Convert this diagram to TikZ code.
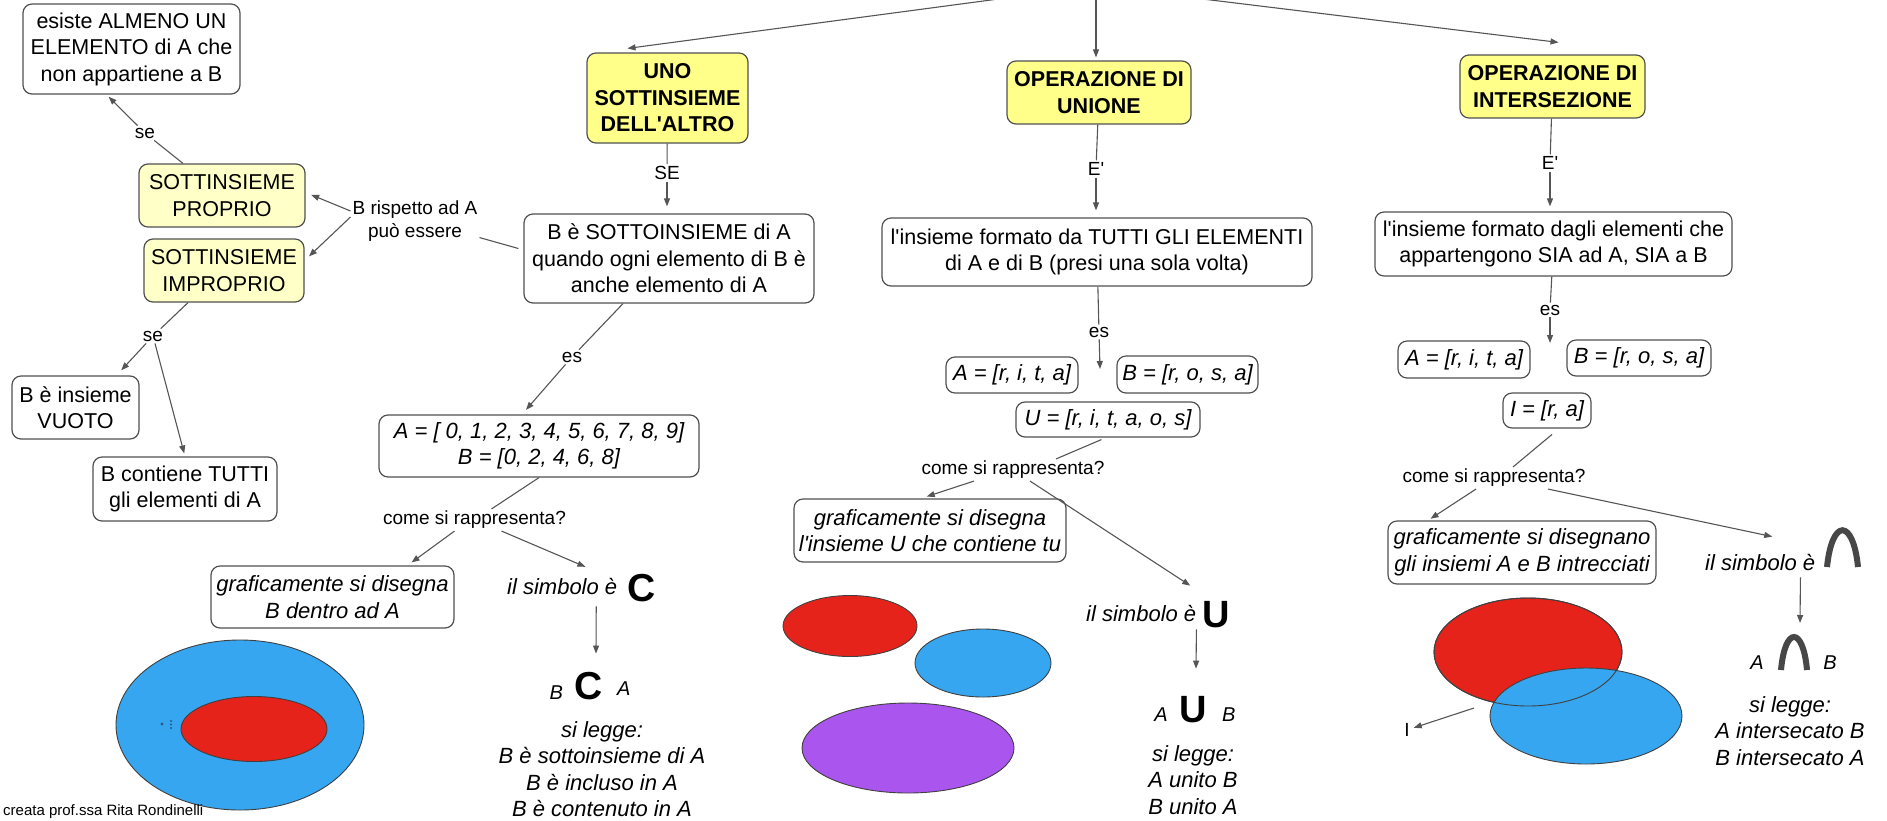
\documentclass[tikz,border=0pt]{standalone}
\usepackage{fontspec}
\setmainfont{Liberation Sans}
\usetikzlibrary{arrows.meta,calc}
\definecolor{bordc}{HTML}{505050}
\definecolor{connc}{HTML}{555555}
\definecolor{yelA}{HTML}{FFFF8A}
\definecolor{yelB}{HTML}{FFFFC8}
\definecolor{redS}{HTML}{E5231B}
\definecolor{blueS}{HTML}{35A6EF}
\definecolor{purpS}{HTML}{A955EE}
\definecolor{symc}{HTML}{474747}
\definecolor{dotc}{HTML}{2A5A80}
\newcommand\fsz[2]{\fontsize{#1}{#2}\selectfont}
\newcommand\apo{\textquotesingle}
\begin{document}
\begin{tikzpicture}[x=1pt,y=-1pt,
 box/.style={draw=bordc, line width=1.2pt, rounded corners=9pt, fill=white, align=center, inner sep=0pt, font=\fsz{21.5}{26.5}},
 ybox/.style={box, fill=yelA, font=\fsz{21.5}{26.5}\bfseries},
 pbox/.style={box, fill=yelB},
 ibox/.style={box, font=\fsz{22}{26.5}\itshape},
 lab/.style={inner sep=2pt, align=center, font=\fsz{19}{23}},
 itx/.style={inner sep=0pt, align=center, font=\fsz{22}{26.3}\itshape},
 conn/.style={draw=connc, line width=1.1pt},
 arr/.style={conn, -{Triangle[length=8pt,width=6pt]}},
 ell/.style={draw=black!75, line width=0.9pt},
]
\useasboundingbox (0,0) rectangle (1887,820);
\clip (0,0) rectangle (1887,820);

% ---------- ellipses ----------
\filldraw[ell, fill=blueS] (240,725) ellipse [x radius=124pt, y radius=85pt];
\filldraw[ell, fill=redS] (254,729) ellipse [x radius=73pt, y radius=32.5pt];
\fill[dotc] (162,724) circle (1.6pt);
\fill[dotc] (171,721) circle (1.1pt);
\fill[dotc] (171,724.5) circle (1.1pt);
\fill[dotc] (171,728) circle (1.1pt);

\filldraw[ell, fill=redS] (850,626) ellipse [x radius=67pt, y radius=30.5pt];
\filldraw[ell, fill=blueS] (983,663) ellipse [x radius=68pt, y radius=34pt];
\filldraw[ell, fill=purpS] (908,748) ellipse [x radius=106pt, y radius=45pt];

\filldraw[ell, fill=redS] (1528,652) ellipse [x radius=94pt, y radius=54pt];
\filldraw[ell, fill=blueS] (1586,716) ellipse [x radius=96pt, y radius=48pt];
\draw[ell] (1528,652) ellipse [x radius=94pt, y radius=54pt];

% ---------- left part ----------
\node[box, minimum width=217pt, minimum height=90pt] (esiste) at (131.5,49) {esiste ALMENO UN\\ELEMENTO di A che\\non appartiene a B};
\node[pbox, minimum width=166pt, minimum height=63pt] (proprio) at (222,195.5) {SOTTINSIEME\\PROPRIO};
\node[pbox, minimum width=160pt, minimum height=63pt] (improprio) at (224,270.5) {SOTTINSIEME\\IMPROPRIO};
\node[lab] (resp) at (415,221) {B rispetto ad A\\può essere};
\node[lab] (se1) at (145,133) {se};
\node[lab] (se2) at (153,336) {se};
\node[box, minimum width=127pt, minimum height=63pt] (vuoto) at (75.5,407.5) {B è insieme\\VUOTO};
\node[box, minimum width=184pt, minimum height=64pt] (contiene) at (185,489) {B contiene TUTTI\\gli elementi di A};

% ---------- subset column ----------
\node[ybox, minimum width=161pt, minimum height=90pt] (uno) at (667.5,98) {UNO\\SOTTINSIEME\\DELL\apo ALTRO};
\node[lab] (SE) at (667,173) {SE};
\node[box, minimum width=290pt, minimum height=89pt] (bsotto) at (669,258.5) {B è SOTTOINSIEME di A\\quando ogni elemento di B è\\anche elemento di A};
\node[lab] (es1) at (572,357) {es};
\node[ibox, minimum width=320pt, minimum height=62pt] (Aset) at (539,446) {A = [ 0, 1, 2, 3, 4, 5, 6, 7, 8, 9]\\B = [0, 2, 4, 6, 8]};
\node[lab] (come1) at (474.5,520) {come si rappresenta?};
\node[ibox, minimum width=243pt, minimum height=62pt] (graf1) at (332.5,597) {graficamente si disegna\\B dentro ad A};
\node[inner sep=0pt, anchor=base west, font=\fsz{22}{26}\itshape] (simb1t) at (507,594) {il simbolo è};
\node[inner sep=0pt, anchor=base, font=\fsz{39}{39}\bfseries] (simb1s) at (642,601) {C};
\node[inner sep=0pt, anchor=base] (bca) at (590,699) {{\fsz{20}{20}\itshape B}\hspace{12pt}{\fsz{39}{39}\bfseries C}\hspace{14pt}\raisebox{4pt}{\fsz{20}{20}\itshape A}};
\node[itx] (legge1) at (602,769) {si legge:\\B è sottoinsieme di A\\B è incluso in A\\B è contenuto in A};

% ---------- union column ----------
\node[ybox, minimum width=184pt, minimum height=63pt] (union) at (1099,92.5) {OPERAZIONE DI\\UNIONE};
\node[lab] (E1) at (1096,169) {E\apo};
\node[box, minimum width=430pt, minimum height=68pt] (linsU) at (1097,252) {l\apo insieme formato da TUTTI GLI ELEMENTI\\di A e di B (presi una sola volta)};
\node[lab] (es2) at (1099,332) {es};
\coordinate (esU) at (1100,369);
\node[ibox, minimum width=132pt, minimum height=36pt] (AU) at (1012,375) {A = [r, i, t, a]};
\node[ibox, minimum width=141pt, minimum height=37pt] (BU) at (1187.5,374.5) {B = [r, o, s, a]};
\node[ibox, minimum width=184pt, minimum height=35pt] (UU) at (1108,419.5) {U = [r, i, t, a, o, s]};
\node[lab] (come2) at (1013,470) {come si rappresenta?};
\node[ibox, minimum width=272pt, minimum height=63pt] (grafU) at (930,530.5) {graficamente si disegna\\l\apo insieme U che contiene tu};
\node[inner sep=0pt, anchor=base west, font=\fsz{22}{26}\itshape] (simbUt) at (1086,621) {il simbolo è};
\node[inner sep=0pt, anchor=base, font=\fsz{38}{38}\bfseries] (simbUs) at (1216,627) {U};
\node[inner sep=0pt, anchor=base] (AUB) at (1195,722) {\raisebox{1pt}{\fsz{20}{20}\itshape A}\hspace{12pt}{\fsz{38}{38}\bfseries U}\hspace{15pt}\raisebox{1pt}{\fsz{20}{20}\itshape B}};
\node[itx] (leggeU) at (1193,780) {si legge:\\A unito B\\B unito A};

% ---------- intersection column ----------
\node[ybox, minimum width=185pt, minimum height=63pt] (inter) at (1552.5,86.5) {OPERAZIONE DI\\INTERSEZIONE};
\node[lab] (E2) at (1550,163) {E\apo};
\node[box, minimum width=357pt, minimum height=64pt] (linsI) at (1553.5,244) {l\apo insieme formato dagli elementi che\\appartengono SIA ad A, SIA a B};
\node[lab] (es3) at (1550,310) {es};
\coordinate (esI) at (1550,343);
\node[ibox, minimum width=132pt, minimum height=37pt] (AI) at (1464,359.5) {A = [r, i, t, a]};
\node[ibox, minimum width=144pt, minimum height=36pt] (BI) at (1639,358) {B = [r, o, s, a]};
\node[ibox, minimum width=88pt, minimum height=35pt] (II) at (1547,410.5) {I = [r, a]};
\node[lab] (come3) at (1494,478) {come si rappresenta?};
\node[ibox, minimum width=268pt, minimum height=63pt] (grafI) at (1522,552.5) {graficamente si disegnano\\gli insiemi A e B intrecciati};
\node[inner sep=0pt, anchor=base west, font=\fsz{22}{26}\itshape] (simbIt) at (1705,570) {il simbolo è};
\draw[symc, line width=6pt] (1827,567) .. controls (1832,518) and (1853,518) .. (1858,567);
\coordinate (cap2) at (1794,651);
\draw[symc, line width=6pt] (1781,670) .. controls (1785,626) and (1803,626) .. (1807,670);
\node[inner sep=0pt, anchor=base, font=\fsz{20}{20}\itshape] (Ai) at (1757,669) {A};
\node[inner sep=0pt, anchor=base, font=\fsz{20}{20}\itshape] (Bi) at (1830,669) {B};
\node[itx] (leggeI) at (1790,731) {si legge:\\A intersecato B\\B intersecato A};
\node[lab] (Ilab) at (1407,730) {I};
\coordinate (Isrc) at (1474,708);

\node[inner sep=0pt, anchor=base west, font=\fsz{15}{15}] (credit) at (3,815) {creata prof.ssa Rita Rondinelli};

% ---------- connectors ----------
\coordinate (root) at (1096,-14);
\draw[arr] (root) -- ([xshift=-40pt,yshift=4pt]uno.north);
\draw[arr] (root) -- ([xshift=-3pt,yshift=3pt]union.north);
\draw[arr] (root) -- ([xshift=6pt,yshift=12pt]inter.north);

\draw[conn] ([xshift=-39pt]proprio.north) -- (se1);
\draw[arr, shorten >=3pt] (se1) -- ([xshift=-25pt]esiste.south);
\draw[conn] ([xshift=-5pt,yshift=10pt]bsotto.west) -- ([yshift=6pt]resp.south east);
\draw[arr, shorten >=6pt] ([yshift=10pt]resp.west) -- ([yshift=3pt]proprio.east);
\draw[arr, shorten >=6pt] ([yshift=4pt]resp.west) -- ([yshift=10pt]improprio.east);
\draw[conn] ([xshift=-36pt]improprio.south) -- (se2);
\draw[arr, shorten >=7pt] (se2) -- ([xshift=41pt]vuoto.north);
\draw[arr, shorten >=3pt] (se2) -- (contiene.north);

\draw[conn] (uno) -- (SE);
\draw[arr, shorten >=7pt] (SE) -- (SE |- bsotto.north);
\draw[conn] ([xshift=-46pt]bsotto.south) -- (es1);
\draw[arr, shorten >=6pt] (es1) -- ([xshift=-17pt]Aset.north);
\draw[conn] (Aset.south) -- ([xshift=17pt]come1.north);
\draw[arr, shorten >=5pt] ([xshift=-20pt]come1.south) -- ([xshift=75pt]graf1.north);
\draw[arr, shorten >=2pt] ([xshift=27pt]come1.south) -- ([xshift=25pt,yshift=10pt]simb1t.north);
\draw[arr] ([xshift=34pt,yshift=-12pt]simb1t.south) -- ([xshift=6pt,yshift=18pt]bca.north);

\draw[conn] (union) -- (E1);
\draw[arr, shorten >=7pt] (E1) -- (E1 |- linsU.north);
\draw[conn] (linsU) -- (es2);
\draw[arr] (es2) -- (esU);
\draw[conn, shorten <=5pt] ([xshift=-2pt]UU.south) -- ([xshift=43pt]come2.north);
\draw[arr, shorten >=6pt] ([xshift=-39pt]come2.south) -- ([xshift=-9pt]grafU.north);
\draw[arr] ([xshift=17pt]come2.south) -- ([xshift=49pt,yshift=19pt]simbUt.north);
\draw[arr] ([yshift=-8pt]simbUt.south east) -- ([xshift=1pt,yshift=27pt]AUB.north);

\draw[conn] (inter) -- (E2);
\draw[arr, shorten >=5pt] (E2) -- (E2 |- linsI.north);
\draw[conn] (linsI) -- (es3);
\draw[arr] (es3) -- (esI);
\draw[conn, shorten <=9pt] ([xshift=12pt]II.south) -- ([xshift=19pt]come3.north);
\draw[arr, shorten >=3pt] ([xshift=-18pt]come3.south) -- ([xshift=-94pt]grafI.north);
\draw[arr] ([xshift=54pt]come3.south) -- ([xshift=12pt,yshift=17pt]simbIt.north);
\draw[arr] ([xshift=-15pt,yshift=-7pt]simbIt.south east) -- ([xshift=6pt,yshift=28pt]cap2);
\draw[arr, shorten >=2pt] (Isrc) -- (Ilab);
\end{tikzpicture}
\end{document}
